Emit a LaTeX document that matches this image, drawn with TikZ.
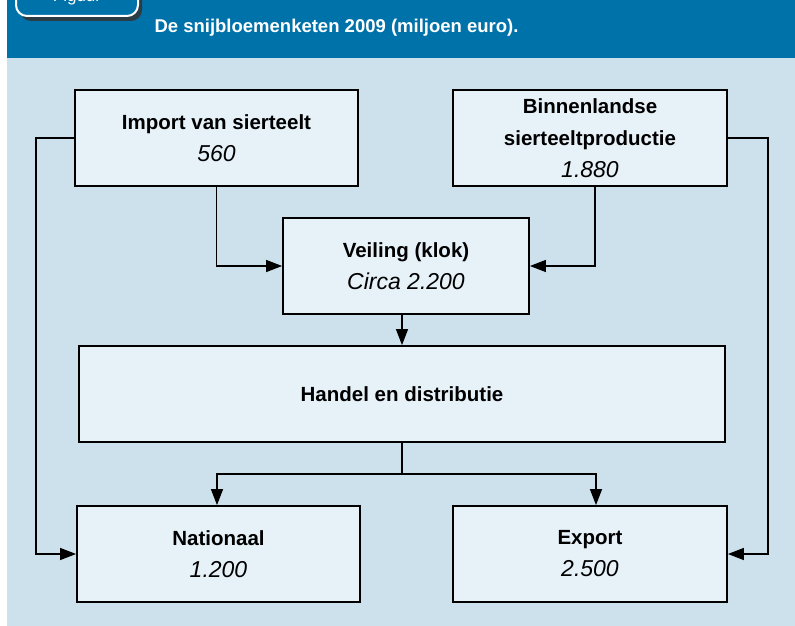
\documentclass[tikz,border=0pt]{standalone}
\usepackage{fontspec}
\setmainfont{Liberation Sans}
\usepackage{xcolor}
\usetikzlibrary{arrows.meta,shadows}
\definecolor{bannerblue}{HTML}{0072AA}
\definecolor{panelblue}{HTML}{CCE1EC}
\definecolor{boxblue}{HTML}{E6F1F8}
\tikzset{
  bx/.style={draw,line width=1.8pt,fill=boxblue,align=center,inner sep=0pt,
    minimum height=96pt,font=\fontsize{20.5}{32}\selectfont},
  arr/.style={line width=1.3pt,-{Triangle[length=16pt,width=12pt]}},
  ln/.style={line width=1.3pt},
  tab/.style={draw=white,line width=2pt,fill=bannerblue,rounded corners=11pt,
    drop shadow={shadow xshift=4pt,shadow yshift=-5pt,opacity=0.85,fill=black!80}}
}
\newcommand{\amt}[1]{{\fontsize{23}{32}\selectfont\itshape #1}}
\newcommand{\hd}[1]{{\bfseries #1}}

\begin{document}
\begin{tikzpicture}[x=1pt,y=-1pt]
\useasboundingbox (0,0) rectangle (795,626);
\clip (0,0) rectangle (795,626);
\fill[white] (0,0) rectangle (795,626);
\fill[bannerblue] (7,0) rectangle (795,58);
\fill[panelblue] (7,58) rectangle (795,626);
\draw[tab] (16,-20) rectangle (138,16);
\node[text=white,font=\fontsize{17}{20}\selectfont] (tabtext) at (77,-3) {Figuur};
\node[anchor=base west,text=white,font=\fontsize{18.5}{22}\selectfont\bfseries] (title) at (151,33)
  {De snijbloemenketen 2009 (miljoen euro).};

\node[bx,minimum width=283pt] (import) at (216.5,138) {\hd{Import van sierteelt}\\\amt{560}};
\node[bx,minimum width=274pt] (binnen) at (590,138) {\hd{Binnenlandse}\\\hd{sierteeltproductie}\\\amt{1.880}};
\node[bx,minimum width=246pt] (veiling) at (406,266) {\hd{Veiling (klok)}\\\amt{Circa 2.200}};
\node[bx,minimum width=646pt] (handel) at (402,394) {\hd{Handel en distributie}};
\node[bx,minimum width=283pt] (nationaal) at (218.5,554) {\hd{Nationaal}\\\amt{1.200}};
\node[bx,minimum width=274pt] (export) at (590,554) {\hd{Export}\\\amt{2.500}};
\coordinate (split) at (402,474);

\draw[arr] (import.south) |- (veiling.west);
\draw[arr] ([xshift=5pt]binnen.south) |- (veiling.east);
\draw[arr] (import.west) -- ++(-38,0) |- (nationaal.west);
\draw[arr] (binnen.east) -- ++(40,0) |- (export.east);
\draw[arr] (veiling.south -| handel.north) -- (handel.north);
\draw[ln] (handel.south) -- (split);
\draw[arr] (split) -| ([xshift=-1.5pt]nationaal.north);
\draw[arr] (split) -| ([xshift=6pt]export.north);
\end{tikzpicture}
\end{document}
